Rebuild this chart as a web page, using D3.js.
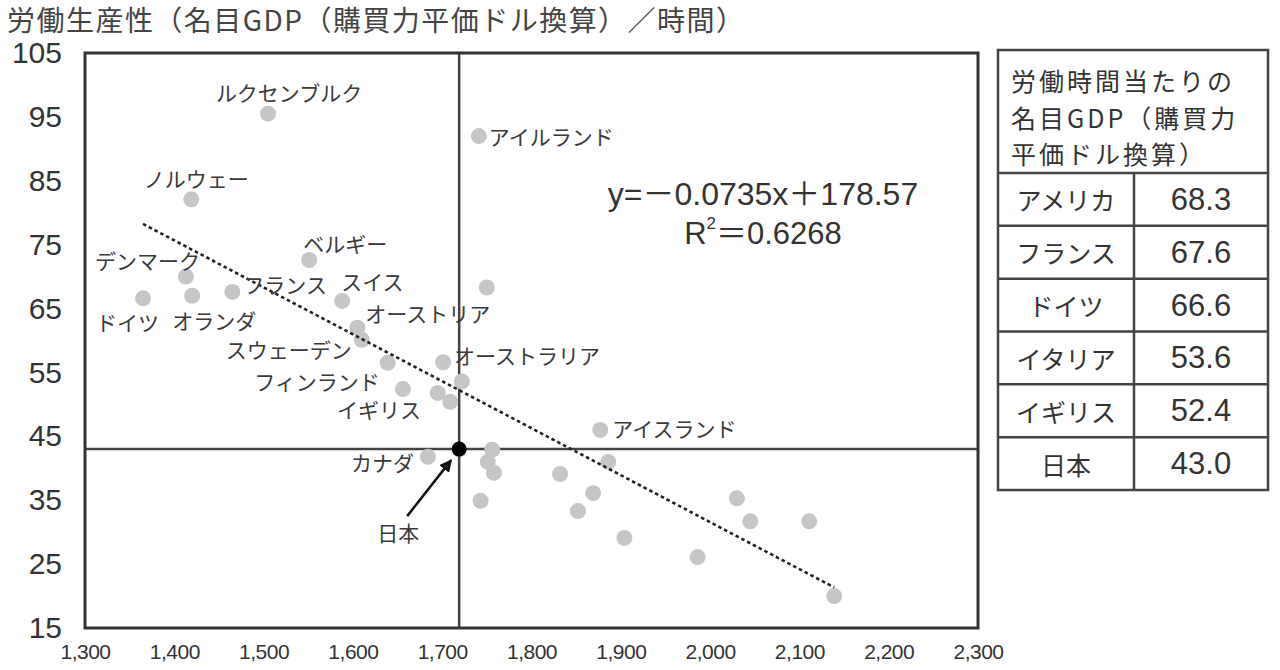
<!DOCTYPE html>
<html><head><meta charset="utf-8">
<script src="https://cdn.jsdelivr.net/npm/d3@7"></script>
<style>body{margin:0;background:#fff;overflow:hidden}</style>
</head><body><svg id="c" width="1280" height="670"></svg>
<script>
// ---------- data ----------
const countries = ["ルクセンブルク","アイルランド","ノルウェー","ベルギー","デンマーク","ドイツ","オランダ","フランス","スイス","アメリカ",
  "オーストリア","スウェーデン","フィンランド","イギリス","オーストラリア","イタリア","","","カナダ","日本",
  "","","","","","","","アイスランド","","","","","","",""];
const hours = [1505,1741,1419,1551,1413,1365,1420,1465,1588,1750,
  1605,1610,1639,1656,1701,1722,1695,1709,1684,1719,
  1756,1751,1758,1743,1832,1869,1852,1877,1886,1904,1986,2030,2045,2111,2139];
const gdp = [95.5,92.0,82.1,72.6,70.0,66.6,67.0,67.6,66.2,68.3,
  62.0,60.1,56.5,52.4,56.6,53.6,51.8,50.4,41.8,43.0,
  42.9,41.0,39.3,34.9,39.1,36.1,33.3,46.0,41.0,29.1,26.1,35.3,31.7,31.7,20.0];
const yTicks = [15,25,35,45,55,65,75,85,95,105];
const xTicks = [1300,1400,1500,1600,1700,1800,1900,2000,2100,2200,2300];
const trendSlope = -0.0735, trendIntercept = 178.57, rSquared = 0.6268;
const title = "労働生産性（名目GDP（購買力平価ドル換算）／時間）";
const tableTitle = ["労働時間当たりの","名目GDP（購買力","平価ドル換算）"];
const tableCountries = ["アメリカ","フランス","ドイツ","イタリア","イギリス","日本"];
const tableValues = [68.3,67.6,66.6,53.6,52.4,43.0];

// ---------- layout (label placement, px offsets from the dot) ----------
const labelLayout = {
  "ルクセンブルク":{dx:21,dy:-22,a:"middle"},
  "アイルランド":{dx:10,dy:0,a:"start"},
  "ノルウェー":{dx:5,dy:-21,a:"middle"},
  "ベルギー":{dx:36,dy:-17,a:"middle"},
  "デンマーク":{dx:14,dy:-17,a:"end"},
  "フランス":{dx:11,dy:-8,a:"start"},
  "スイス":{dx:-1,dy:-20,a:"start"},
  "ドイツ":{dx:-47,dy:24,a:"start"},
  "オランダ":{dx:-20,dy:24,a:"start"},
  "オーストリア":{dx:8,dy:-15,a:"start"},
  "スウェーデン":{dx:-10,dy:9,a:"end"},
  "フィンランド":{dx:-8,dy:18,a:"end"},
  "オーストラリア":{dx:11,dy:-7,a:"start"},
  "イギリス":{dx:-66,dy:20,a:"start"},
  "カナダ":{dx:-14,dy:5,a:"end"},
  "アイスランド":{dx:12,dy:-2,a:"start"}
};

const CJK = "'Noto Sans CJK JP','Noto Sans',sans-serif";
const LAT = "'Liberation Sans','Noto Sans CJK JP',Arial,sans-serif";
const ink = "#333";

const svg = d3.select("#c");
const x = d3.scaleLinear().domain([1300,2300]).range([85,978]);
const y = d3.scaleLinear().domain([15,105]).range([628,53]);

// title
svg.append("text").attr("x",7).attr("y",19).attr("dominant-baseline","central")
  .attr("font-family",CJK).attr("font-size",28).attr("fill","#444")
  .attr("textLength",737).attr("lengthAdjust","spacing").text(title);

// axes
const ya = svg.append("g").attr("transform",`translate(${x.range()[0]},0)`)
  .call(d3.axisLeft(y).tickValues(yTicks).tickSize(0).tickPadding(23).tickFormat(d3.format("d")));
ya.select(".domain").remove();
ya.selectAll("text").attr("font-family",LAT).attr("font-size",30).attr("fill",ink);

const xa = svg.append("g").attr("transform",`translate(0,${y.range()[0]})`)
  .call(d3.axisBottom(x).tickValues(xTicks).tickSize(0).tickPadding(16).tickFormat(d3.format(",")));
xa.select(".domain").remove();
xa.selectAll("text").attr("font-family",LAT).attr("font-size",21).attr("letter-spacing",-0.5).attr("fill",ink);

const data = countries.map((c,i)=>({c,h:hours[i],g:gdp[i]}));
const jp = data.find(d=>d.c==="日本");

// cross lines through Japan
svg.append("line").attr("x1",x(jp.h)).attr("x2",x(jp.h)).attr("y1",y(105)).attr("y2",y(15))
  .attr("stroke","#444").attr("stroke-width",2.5);
svg.append("line").attr("x1",x(1300)).attr("x2",x(2300)).attr("y1",y(jp.g)).attr("y2",y(jp.g))
  .attr("stroke","#444").attr("stroke-width",2.5);

// points
svg.append("g").selectAll("circle").data(data.filter(d=>d.c!=="日本")).join("circle")
  .attr("cx",d=>x(d.h)).attr("cy",d=>y(d.g)).attr("r",8).attr("fill","#c6c6c6");

// trend line
const ext = d3.extent(hours);
svg.append("line").attr("x1",x(ext[0])).attr("y1",y(trendSlope*ext[0]+trendIntercept))
  .attr("x2",x(ext[1])).attr("y2",y(trendSlope*ext[1]+trendIntercept))
  .attr("stroke","#222").attr("stroke-width",2.6).attr("stroke-dasharray","3.5,3");

// Japan dot
svg.append("circle").attr("cx",x(jp.h)).attr("cy",y(jp.g)).attr("r",7.5).attr("fill","#000");

// frame
svg.append("rect").attr("x",x(1300)).attr("y",y(105)).attr("width",x(2300)-x(1300)).attr("height",y(15)-y(105))
  .attr("fill","none").attr("stroke","#333").attr("stroke-width",3);

// labels
svg.append("g").selectAll("text").data(data.filter(d=>labelLayout[d.c])).join("text")
  .attr("x",d=>x(d.h)+labelLayout[d.c].dx).attr("y",d=>y(d.g)+labelLayout[d.c].dy)
  .attr("text-anchor",d=>labelLayout[d.c].a).attr("dominant-baseline","central")
  .attr("font-family",CJK).attr("font-size",21).attr("fill","#3a3a3a").text(d=>d.c);

// arrow to Japan
svg.append("defs").append("marker").attr("id","ah").attr("viewBox","0 0 10 10").attr("refX",9).attr("refY",5)
  .attr("markerWidth",5).attr("markerHeight",5).attr("orient","auto")
  .append("path").attr("d","M0,0L10,5L0,10z").attr("fill","#111");
const jx = x(jp.h), jy = y(jp.g);
svg.append("line").attr("x1",jx-52).attr("y1",jy+67).attr("x2",jx-8).attr("y2",jy+11)
  .attr("stroke","#111").attr("stroke-width",2.5).attr("marker-end","url(#ah)");
svg.append("text").attr("x",jx-61).attr("y",jy+83).attr("text-anchor","middle").attr("dominant-baseline","central")
  .attr("font-family",CJK).attr("font-size",21).attr("fill","#3a3a3a").text(jp.c);

// equation (full-width operators as in the original typesetting)
const fmtEq = `y=－${Math.abs(trendSlope)}x＋${trendIntercept}`;
svg.append("text").attr("x",763).attr("y",194).attr("text-anchor","middle").attr("dominant-baseline","central")
  .attr("font-family",LAT).attr("font-size",32).attr("fill",ink).text(fmtEq);
const r2 = svg.append("text").attr("x",763).attr("y",233).attr("text-anchor","middle").attr("dominant-baseline","central")
  .attr("font-family",LAT).attr("font-size",31).attr("fill",ink);
r2.append("tspan").text("R");
r2.append("tspan").attr("font-size",17).attr("dy",-10).text("2");
r2.append("tspan").attr("dy",10).text("＝"+rSquared);

// table
const tx0 = 998, tx1 = 1268, tcol = 1134, ty0 = 50, thead = 173, ty1 = 490;
const rows = d3.scaleBand().domain(tableCountries).range([thead,ty1]);
const tg = svg.append("g");
tg.append("rect").attr("x",tx0).attr("y",ty0).attr("width",tx1-tx0).attr("height",ty1-ty0)
  .attr("fill","none").attr("stroke","#444").attr("stroke-width",2.5);
tg.selectAll("line.r").data(tableCountries).join("line").attr("class","r")
  .attr("x1",tx0).attr("x2",tx1).attr("y1",d=>rows(d)).attr("y2",d=>rows(d))
  .attr("stroke","#444").attr("stroke-width",2.5);
tg.append("line").attr("x1",tcol).attr("x2",tcol).attr("y1",thead).attr("y2",ty1)
  .attr("stroke","#444").attr("stroke-width",2.5);
tg.selectAll("text.h").data(tableTitle).join("text").attr("class","h")
  .attr("x",1011).attr("y",(d,i)=>80+i*36.5).attr("dominant-baseline","central")
  .attr("font-family",CJK).attr("font-size",25).attr("letter-spacing",3).attr("fill",ink).text(d=>d);
tg.selectAll("text.c").data(tableCountries).join("text").attr("class","c")
  .attr("x",(tx0+tcol)/2).attr("y",d=>rows(d)+rows.bandwidth()/2).attr("text-anchor","middle").attr("dominant-baseline","central")
  .attr("font-family",CJK).attr("font-size",25).attr("fill",ink).text(d=>d);
tg.selectAll("text.v").data(tableValues).join("text").attr("class","v")
  .attr("x",(tcol+tx1)/2).attr("y",(d,i)=>rows(tableCountries[i])+rows.bandwidth()/2).attr("text-anchor","middle").attr("dominant-baseline","central")
  .attr("font-family",LAT).attr("font-size",31).attr("fill",ink).text(d=>d.toFixed(1));
</script></body></html>
